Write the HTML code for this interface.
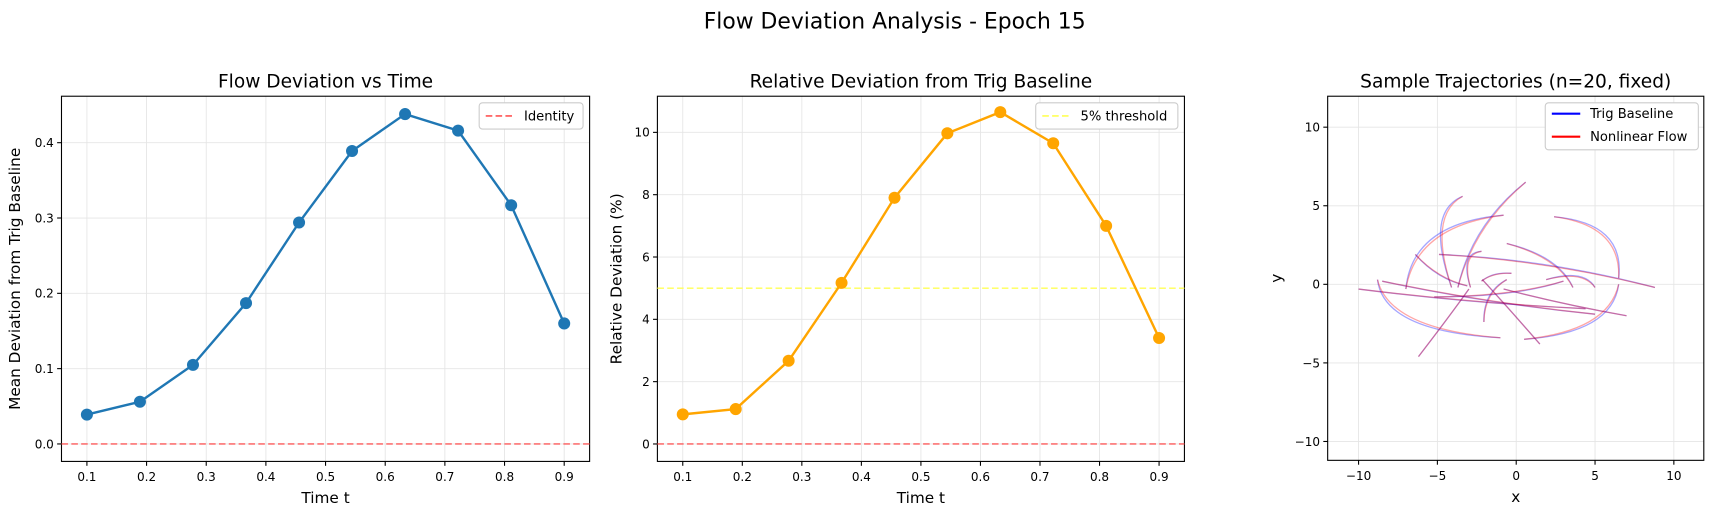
<!DOCTYPE html>
<html><head><meta charset="utf-8"><style>
body{margin:0;background:#fff;font-family:"Liberation Sans",sans-serif}
svg text{font-family:"DejaVu Sans","Liberation Sans",sans-serif}
</style></head><body>
<svg id="s" width="1715" height="515" viewBox="0 0 1568 471" xmlns="http://www.w3.org/2000/svg">
<text x="818" y="26" font-size="20" text-anchor="middle">Flow Deviation Analysis - Epoch 15</text>
</svg>
<script>
const times=[0.1,0.1889,0.2778,0.3667,0.4556,0.5444,0.6333,0.7222,0.8111,0.9];
const meanDev=[0.039,0.056,0.105,0.187,0.294,0.389,0.438,0.416,0.317,0.160];
const relDev=[0.95,1.12,2.67,5.17,7.9,9.97,10.65,9.65,7.0,3.4];
const xTicks1=[0.1,0.2,0.3,0.4,0.5,0.6,0.7,0.8,0.9];
const yTicks1=[0.0,0.1,0.2,0.3,0.4];
const yTicks2=[0,2,4,6,8,10];
const trajTicks=[-10,-5,0,5,10];
const trajCurves=[[-10,-0.3,-3,-1.2,4.4,-1.55],[-8.8,0.3,-8.4,-3.0,-1,-3.4],[-8.5,0.2,-2,-1.2,5,-1.9],[-7,-0.3,-6.6,3.9,-0.8,4.4],[-6.2,-4.6,-4.2,-2,-3,-0.3],[-4.1,-0.2,-5.8,4.6,-3.4,5.6],[-3.7,-0.2,-2.8,3.8,0.6,6.5],[-6.4,1.9,-5,0.3,-3.1,-0.1],[-2.9,-0.2,-3.6,2.0,-2.2,2.1],[-2.2,0.2,-1.5,0.8,-0.3,0.7],[-2.15,0.3,-0.5,-1.5,1.5,-3.8],[-2.05,-2.4,-2.1,-0.5,-0.6,0.3],[-4.9,1.9,2,1.6,8.8,-0.2],[-0.6,2.6,2.7,1.8,3.6,-0.2],[2.4,4.3,6.9,3.9,6.5,0.4],[6.5,0,6.1,-3.1,0.5,-3.5],[-0.8,-0.3,3,-1.3,7,-2],[-5.2,-0.8,0,-0.8,3,0.2],[1.9,0.3,4.3,1.0,5,-0.2]];
const S=document.getElementById('s');const NS='http://www.w3.org/2000/svg';
function E(t,a,p){const e=document.createElementNS(NS,t);for(const k in a)e.setAttribute(k,a[k]);(p||S).appendChild(e);return e;}
function T(x,y,s,sz,anc,p,rot){const e=E('text',{x:x,y:y,'font-size':sz,'text-anchor':anc||'middle'},p);if(rot)e.setAttribute('transform',`rotate(-90 ${x} ${y})`);e.textContent=s;return e;}
function panel(o){
 const g=E('g',{});
 const X=v=>o.L+(v-o.x0)/(o.x1-o.x0)*(o.R-o.L), Y=v=>o.B-(v-o.y0)/(o.y1-o.y0)*(o.B-o.T);
 o.xt.forEach(v=>{E('line',{x1:X(v),x2:X(v),y1:o.T,y2:o.B,stroke:'#e5e5e5','stroke-width':0.8},g);E('line',{x1:X(v),x2:X(v),y1:o.B,y2:o.B+4,stroke:'#000'},g);T(X(v),o.B+18,o.fx(v),11,'middle',g);});
 o.yt.forEach(v=>{E('line',{x1:o.L,x2:o.R,y1:Y(v),y2:Y(v),stroke:'#e5e5e5','stroke-width':0.8},g);E('line',{x1:o.L-4,x2:o.L,y1:Y(v),y2:Y(v),stroke:'#000'},g);T(o.L-7,Y(v)+4,o.fy(v),11,'end',g);});
 E('rect',{x:o.L,y:o.T,width:o.R-o.L,height:o.B-o.T,fill:'none',stroke:'#000','stroke-width':1},g);
 T((o.L+o.R)/2,o.T-8,o.title,17,'middle',g);
 T((o.L+o.R)/2,o.B+38,o.xl,14,'middle',g);
 T(o.yx,(o.T+o.B)/2,o.yl,14,'middle',g,true);
 return {g,X,Y};
}
// Panel 1
let p=panel({name:'deviation-vs-time-panel',L:56,R:539,T:88,B:422,x0:0.0574,x1:0.9426,y0:-0.0232,y1:0.4617,xt:xTicks1,yt:yTicks1,fx:v=>v.toFixed(1),fy:v=>v.toFixed(1),title:'Flow Deviation vs Time',xl:'Time t',yl:'Mean Deviation from Trig Baseline',yx:18});
E('line',{x1:56,x2:539,y1:p.Y(0),y2:p.Y(0),stroke:'#f55','stroke-width':1.5,'stroke-dasharray':'6,3',opacity:0.8},p.g);
E('polyline',{points:times.map((t,i)=>p.X(t)+','+p.Y(meanDev[i])).join(' '),fill:'none',stroke:'#1f77b4','stroke-width':2.2},p.g);
times.forEach((t,i)=>{const c=E('circle',{cx:p.X(t),cy:p.Y(meanDev[i]),r:5.5,fill:'#1f77b4'},p.g);});
let lg=E('g',{},p.g);
E('rect',{x:438,y:94,width:95,height:24,fill:'#fff',stroke:'#ccc',rx:3},lg);E('line',{x1:444,x2:470,y1:106,y2:106,stroke:'#f55','stroke-width':1.5,'stroke-dasharray':'6,3'},lg);T(479,110,'Identity',12,'start',lg);
// Panel 2
p=panel({name:'relative-deviation-panel',L:601,R:1083,T:88,B:422,x0:0.0574,x1:0.9426,y0:-0.56,y1:11.16,xt:xTicks1,yt:yTicks2,fx:v=>v.toFixed(1),fy:v=>String(v),title:'Relative Deviation from Trig Baseline',xl:'Time t',yl:'Relative Deviation (%)',yx:568});
E('line',{x1:601,x2:1083,y1:p.Y(0),y2:p.Y(0),stroke:'#f55','stroke-width':1.5,'stroke-dasharray':'6,3',opacity:0.8},p.g);
E('line',{x1:601,x2:1083,y1:p.Y(5),y2:p.Y(5),stroke:'#ffff55','stroke-width':1.3,'stroke-dasharray':'6,3'},p.g);
E('polyline',{points:times.map((t,i)=>p.X(t)+','+p.Y(relDev[i])).join(' '),fill:'none',stroke:'#ffa500','stroke-width':2.2},p.g);
times.forEach((t,i)=>{const c=E('circle',{cx:p.X(t),cy:p.Y(relDev[i]),r:5.5,fill:'#ffa500'},p.g);});
lg=E('g',{},p.g);
E('rect',{x:947,y:94,width:130,height:24,fill:'#fff',stroke:'#ccc',rx:3},lg);E('line',{x1:953,x2:979,y1:106,y2:106,stroke:'#ffff55','stroke-width':1.5,'stroke-dasharray':'6,3'},lg);T(988,110,'5% threshold',12,'start',lg);
// Panel 3
p=panel({name:'trajectories-panel',L:1214,R:1558,T:88,B:421,x0:-11.96,x1:11.9,y0:-11.2,y1:11.97,xt:trajTicks,yt:trajTicks,fx:v=>String(v).replace('-','\u2212'),fy:v=>String(v).replace('-','\u2212'),title:'Sample Trajectories (n=20, fixed)',xl:'x',yl:'y',yx:1172});
trajCurves.forEach(c=>{
 const d=`M${p.X(c[0])},${p.Y(c[1])} Q${p.X(c[2])},${p.Y(c[3])} ${p.X(c[4])},${p.Y(c[5])}`;
 const b=E('path',{d:d,fill:'none',stroke:'rgba(0,0,255,0.35)','stroke-width':1.2},p.g);
 const d2=`M${p.X(c[0])},${p.Y(c[1])} Q${p.X(c[2]*0.9+c[0]*0.05+c[4]*0.05)},${p.Y(c[3]*0.9+c[1]*0.05+c[5]*0.05)} ${p.X(c[4])},${p.Y(c[5])}`;
 const r=E('path',{d:d2,fill:'none',stroke:'rgba(255,0,0,0.35)','stroke-width':1.2},p.g);
});
lg=E('g',{},p.g);
E('rect',{x:1413,y:94,width:140,height:43,fill:'#fff',stroke:'#ccc',rx:3},lg);
E('line',{x1:1419,x2:1445,y1:104,y2:104,stroke:'#00f','stroke-width':2},lg);T(1454,108,'Trig Baseline',12,'start',lg);
E('line',{x1:1419,x2:1445,y1:125,y2:125,stroke:'#f00','stroke-width':2},lg);T(1454,129,'Nonlinear Flow',12,'start',lg);
</script>
</body></html>
